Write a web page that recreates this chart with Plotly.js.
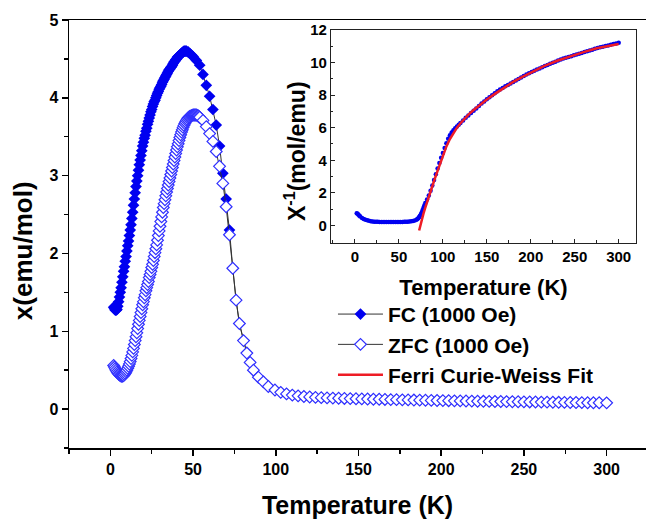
<!DOCTYPE html>
<html>
<head>
<meta charset="utf-8">
<script src="https://cdn.plot.ly/plotly-3.0.1.min.js"></script>
<style>html,body{margin:0;padding:0;background:#fff;}#chart{width:646px;height:519px;}</style>
</head>
<body>
<div id="chart"></div>
<script>
// ---- Main panel data: chi (emu/mol) vs T (K) ----
const fcLowT = [2,2.5,3,3.5,4,4.5,5,5.5,6,6.5,7,7.5,8,8.5,9,9.5,10,10.5,11,11.5,12,12.5,13,13.5,14,14.5,15,15.5,16,16.5,17,17.5,18,18.5,19,19.5,20,20.5,21,21.5,22,22.5,23,23.5,24,24.5,25,25.5,26,26.5,27,27.5,28,28.5,29,29.5,30,30.5,31,31.5,32,32.5,33,33.5,34,34.5,35,35.5,36,36.5,37,37.5,38,38.5,39,39.5,40,40.5,41,41.5,42,42.5,43,43.5,44,44.5,45,45.5,46,47,48,49,50,52,54,56,58,60,62,64,66,68,70,72];
const fcLowChi = [1.31,1.29,1.27,1.27,1.28,1.32,1.38,1.44,1.5,1.56,1.63,1.7,1.77,1.83,1.9,1.96,2.03,2.1,2.16,2.23,2.3,2.37,2.45,2.53,2.62,2.7,2.78,2.86,2.93,3.0,3.07,3.14,3.2,3.26,3.32,3.38,3.43,3.48,3.52,3.57,3.61,3.66,3.7,3.74,3.78,3.82,3.85,3.89,3.92,3.95,3.97,4.0,4.03,4.06,4.08,4.11,4.13,4.15,4.17,4.2,4.22,4.24,4.26,4.28,4.3,4.32,4.34,4.36,4.37,4.39,4.4,4.42,4.44,4.46,4.47,4.49,4.5,4.52,4.53,4.54,4.55,4.56,4.57,4.58,4.59,4.6,4.6,4.6,4.6,4.59,4.57,4.55,4.53,4.48,4.42,4.3,4.16,4.02,3.85,3.65,3.38,3.03,2.7,2.3];

const zfcLowT = [2,2.5,3,3.5,4,4.5,5,5.5,6,6.5,7,7.5,8,8.5,9,9.5,10,10.5,11,11.5,12,12.5,13,13.5,14,14.5,15,15.5,16,16.5,17,17.5,18,18.5,19,19.5,20,20.5,21,21.5,22,22.5,23,23.5,24,24.5,25,25.5,26,26.5,27,27.5,28,28.5,29,29.5,30,30.5,31,31.5,32,32.5,33,33.5,34,34.5,35,35.5,36,36.5,37,37.5,38,38.5,39,39.5,40,40.5,41,41.5,42,42.5,43,43.5,44,44.5,45,45.5,46,46.5,47,47.5,48,48.5,49,49.5,50,50.5,51,51.5,52,52.5,53,53.5,54,56,58,60,62,64,66,68,70,72];
const zfcLowChi = [0.56,0.54,0.52,0.5,0.48,0.465,0.45,0.44,0.43,0.425,0.42,0.425,0.43,0.445,0.46,0.48,0.5,0.525,0.55,0.58,0.61,0.65,0.69,0.735,0.78,0.83,0.88,0.93,0.98,1.035,1.09,1.14,1.19,1.24,1.29,1.34,1.38,1.43,1.47,1.52,1.56,1.6,1.64,1.69,1.73,1.77,1.82,1.86,1.91,1.96,2.01,2.06,2.11,2.17,2.23,2.29,2.35,2.41,2.47,2.53,2.59,2.64,2.69,2.74,2.79,2.835,2.88,2.925,2.97,3.015,3.06,3.105,3.15,3.195,3.24,3.285,3.33,3.37,3.41,3.45,3.49,3.525,3.56,3.59,3.62,3.645,3.67,3.69,3.71,3.725,3.74,3.75,3.76,3.765,3.77,3.775,3.78,3.78,3.78,3.78,3.78,3.775,3.77,3.76,3.75,3.71,3.63,3.54,3.44,3.31,3.12,2.9,2.6,2.24];

// common high-temperature branch (FC and ZFC coincide)
const tailT = [74,76,78,80.5,82.5,84.5,86.5,89.5,92.5,95.5,99.5,103,106.5,110,113.5,117,120.5,124,127.5,131,134.5,138,141.5,145,148.5,152,155.5,159,162.5,166,169.5,173,176.5,180,183.5,187,190.5,194,197.5,201,204.5,208,211.5,215,218.5,222,225.5,229,232.5,236,239.5,243,246.5,250,253.5,257,260.5,264,267.5,271,274.5,278,281.5,285,288.5,292,295.5,300];
const tailChi = [1.81,1.4,1.1,0.88,0.72,0.6,0.5,0.41,0.35,0.29,0.245,0.215,0.195,0.18,0.17,0.162,0.156,0.151,0.147,0.144,0.141,0.139,0.137,0.135,0.133,0.131,0.129,0.127,0.126,0.124,0.122,0.121,0.119,0.118,0.116,0.115,0.113,0.112,0.11,0.109,0.108,0.106,0.105,0.104,0.103,0.101,0.1,0.099,0.098,0.097,0.096,0.095,0.094,0.093,0.092,0.091,0.09,0.089,0.088,0.087,0.086,0.085,0.084,0.083,0.082,0.081,0.081,0.08];

// ---- Inset data: 1/chi (mol/emu) vs T ----
const insetT = [2,3,4,5,6,8,10,12,14,16,18,20,22,24,26,28,30,32,34,36,38,40,42,44,46,48,50,52,54,56,58,60,62,64,66,68,70,71,72,73,74,75,76,77,78,79,80,82,84,86,88,90,92,94,96,98,100,102,104,106,108,110,112,114,116,118,120,123,126,129,132,135,138,141,144,147,150,153,156,159,162,165,168,171,174,177,180,183,186,189,192,195,198,201,204,207,210,213,216,219,222,225,228,231,234,237,240,243,246,249,252,255,258,261,264,267,270,273,276,279,282,285,288,291,294,297,300];
const insetInv = [0.76,0.72,0.66,0.6,0.55,0.47,0.41,0.36,0.32,0.29,0.27,0.25,0.24,0.23,0.23,0.22,0.22,0.22,0.22,0.22,0.22,0.22,0.22,0.22,0.22,0.22,0.22,0.22,0.22,0.23,0.23,0.24,0.25,0.26,0.28,0.31,0.36,0.4,0.45,0.52,0.6,0.7,0.82,0.95,1.1,1.25,1.38,1.6,1.85,2.13,2.45,2.8,3.15,3.5,3.83,4.15,4.45,4.75,5.05,5.32,5.54,5.7,5.84,5.96,6.07,6.18,6.29,6.44,6.6,6.75,6.9,7.04,7.18,7.32,7.48,7.61,7.74,7.87,7.99,8.11,8.23,8.33,8.43,8.53,8.62,8.71,8.8,8.89,8.98,9.07,9.16,9.25,9.33,9.41,9.49,9.56,9.63,9.7,9.77,9.84,9.91,9.98,10.04,10.11,10.17,10.23,10.28,10.33,10.38,10.43,10.48,10.53,10.58,10.63,10.68,10.73,10.78,10.83,10.88,10.92,10.96,11.0,11.04,11.08,11.12,11.16,11.2];

const fitT = [73,74,76,78,80,82,85,88,91,94,97,100,104,108,112,116,120,125,130,135,140,150,160,170,180,190,200,215,230,245,260,275,290,300];
const fitInv = [-0.3,-0.05,0.38,0.75,1.1,1.45,1.95,2.45,2.9,3.35,3.8,4.3,4.85,5.3,5.68,6.0,6.27,6.57,6.84,7.08,7.3,7.72,8.1,8.46,8.8,9.1,9.38,9.77,10.1,10.38,10.63,10.86,11.02,11.12];

const seriesNames = ['FC (1000 Oe)', 'ZFC (1000 Oe)', 'Ferri Curie-Weiss Fit'];
const mainYTitle = 'x(emu/mol)';
const insetYTitle = 'X<sup>-1</sup>(mol/emu)';
const xTitle = 'Temperature (K)';

const FONT = 'Liberation Sans, Arial, Helvetica, sans-serif';
const BLUE = '#0000f0';

const fcTrace = {
  x: fcLowT.concat(tailT), y: fcLowChi.concat(tailChi),
  type: 'scatter', mode: 'lines+markers', name: seriesNames[0],
  line: {color: '#333333', width: 1},
  marker: {symbol: 'diamond', size: 9, color: BLUE, line: {width: 0}},
  xaxis: 'x', yaxis: 'y'
};
const zfcTrace = {
  x: zfcLowT.concat(tailT), y: zfcLowChi.concat(tailChi),
  type: 'scatter', mode: 'lines+markers', name: seriesNames[1],
  line: {color: '#333333', width: 1},
  marker: {symbol: 'diamond', size: 9, color: '#ffffff', line: {width: 1.2, color: '#3030ff'}},
  xaxis: 'x', yaxis: 'y'
};
const dotsTrace = {
  x: insetT, y: insetInv, type: 'scatter', mode: 'markers', showlegend: false, name: 'inset data',
  marker: {symbol: 'circle', size: 4.5, color: BLUE},
  xaxis: 'x2', yaxis: 'y2'
};
const fitTrace = {
  x: fitT, y: fitInv, type: 'scatter', mode: 'lines', name: seriesNames[2],
  line: {color: '#ee1c25', width: 2.5},
  xaxis: 'x2', yaxis: 'y2'
};

const tf = (s) => ({family: FONT, size: s, color: '#000', weight: 'bold'});

const layout = {
  width: 646, height: 519,
  margin: {l: 69, r: 0, t: 20, b: 71},
  paper_bgcolor: '#ffffff', plot_bgcolor: 'rgba(0,0,0,0)',
  font: tf(16),
  showlegend: true,
  xaxis: {
    range: [-25, 323.8], tick0: 0, dtick: 50,
    ticks: 'outside', ticklen: 6, tickwidth: 1.5, tickcolor: '#000',
    showline: true, linewidth: 1.5, linecolor: '#000', mirror: true,
    showgrid: false, zeroline: false,
    minor: {dtick: 25, ticks: 'outside', ticklen: 4, tickwidth: 1.5, tickcolor: '#000', showgrid: false},
    tickfont: tf(16),
    title: {text: xTitle, font: tf(25), standoff: 20}
  },
  yaxis: {
    range: [-0.5, 5], tick0: 0, dtick: 1,
    ticks: 'outside', ticklen: 6, tickwidth: 1.5, tickcolor: '#000',
    showline: true, linewidth: 1.5, linecolor: '#000',
    showgrid: false, zeroline: false,
    minor: {dtick: 0.5, ticks: 'outside', ticklen: 4, tickwidth: 1.5, tickcolor: '#000', showgrid: false},
    tickfont: tf(16)
  },
  xaxis2: {
    domain: [0.454, 0.9827], anchor: 'y2',
    range: [-27.3, 319.7], tick0: 0, dtick: 50,
    ticks: 'inside', ticklen: 4, tickwidth: 1, tickcolor: '#222',
    showline: true, linewidth: 1, linecolor: '#222', mirror: true,
    showgrid: false, zeroline: false,
    minor: {dtick: 25, ticks: 'inside', ticklen: 2.5, tickwidth: 1, tickcolor: '#222', showgrid: false},
    tickfont: tf(15),
    title: {text: xTitle, font: tf(22), standoff: 16}
  },
  yaxis2: {
    domain: [0.480, 0.9773], anchor: 'x2',
    range: [-1.04, 12.0], tick0: 0, dtick: 2,
    ticks: 'inside', ticklen: 4, tickwidth: 1, tickcolor: '#222',
    showline: true, linewidth: 1, linecolor: '#222', mirror: true,
    showgrid: false, zeroline: false,
    minor: {dtick: 1, ticks: 'inside', ticklen: 2.5, tickwidth: 1, tickcolor: '#222', showgrid: false},
    tickfont: tf(15)
  },
  annotations: [
    {text: mainYTitle, xref: 'paper', yref: 'paper', x: -0.0797, y: 0.46,
     xanchor: 'center', yanchor: 'middle', textangle: -90, showarrow: false, font: tf(26)},
    {text: insetYTitle, xref: 'paper', yref: 'paper', x: 0.3917, y: 0.694,
     xanchor: 'center', yanchor: 'middle', textangle: -90, showarrow: false, font: tf(23)}
  ],
  legend: {
    x: 0.4575, y: 0.36, xanchor: 'left', yanchor: 'top',
    bgcolor: 'rgba(0,0,0,0)', borderwidth: 0,
    font: tf(21), itemwidth: 45, tracegroupgap: 0
  }
};

Plotly.newPlot('chart', [fcTrace, zfcTrace, dotsTrace, fitTrace], layout, {staticPlot: true, displayModeBar: false});
</script>
</body>
</html>
